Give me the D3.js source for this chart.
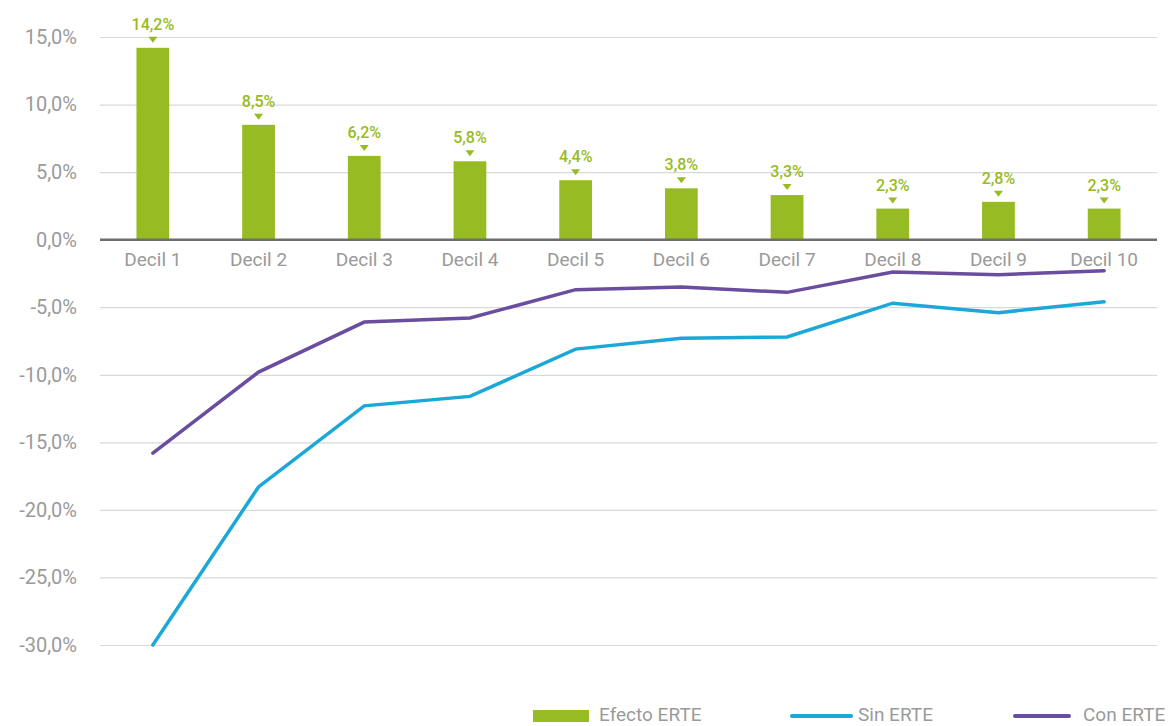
<!DOCTYPE html>
<html>
<head>
<meta charset="utf-8">
<script src="https://cdn.jsdelivr.net/npm/d3@7"></script>
<style>
  body { margin: 0; background: #fff; }
  svg { display: block; font-family: Roboto, "DejaVu Sans", sans-serif; }
</style>
</head>
<body>
<div id="chart"></div>
<script>
// Efecto de los ERTE por decil
const deciles = ["Decil 1", "Decil 2", "Decil 3", "Decil 4", "Decil 5", "Decil 6", "Decil 7", "Decil 8", "Decil 9", "Decil 10"];
const efectoErte = [14.2, 8.5, 6.2, 5.8, 4.4, 3.8, 3.3, 2.3, 2.8, 2.3];
const sinErte = [-30.0, -18.3, -12.3, -11.6, -8.1, -7.3, -7.2, -4.7, -5.4, -4.6];
const conErte = [-15.8, -9.8, -6.1, -5.8, -3.7, -3.5, -3.9, -2.4, -2.6, -2.3];
const yTicks = [15, 10, 5, 0, -5, -10, -15, -20, -25, -30];

const width = 1168, height = 726;
const green = "#97bb22", blue = "#1ba7d8", purple = "#6a4d9f";
const fmt = v => d3.format(".1f")(v).replace(".", ",").replace("−", "-") + "%";

const svg = d3.select("#chart").append("svg")
    .attr("width", width)
    .attr("height", height);

const x = d3.scaleBand()
    .domain(deciles)
    .range([100, 1157])
    .paddingInner(0.69)
    .paddingOuter(0.345);

const y = d3.scaleLinear()
    .domain([-30, 15])
    .range([645, 37]);

// gridlines + y labels
const yAxis = svg.append("g")
    .attr("transform", "translate(100,0)")
    .call(d3.axisLeft(y).tickValues(yTicks).tickSize(-1057).tickFormat(fmt).tickPadding(23));
yAxis.select(".domain").remove();
yAxis.selectAll(".tick line").attr("stroke", "#d9d9d9").attr("stroke-width", 1.2);
yAxis.selectAll(".tick text")
    .attr("fill", "#9a9a9a")
    .attr("font-size", "20px")
    .attr("font-family", "Roboto, sans-serif");

// bars
svg.append("g").selectAll("rect")
    .data(efectoErte)
    .join("rect")
    .attr("x", (d, i) => x(deciles[i]))
    .attr("y", d => y(d))
    .attr("width", x.bandwidth())
    .attr("height", d => y(0) - y(d))
    .attr("fill", green);

// zero axis line
svg.append("line")
    .attr("x1", 100).attr("x2", 1157)
    .attr("y1", y(0)).attr("y2", y(0))
    .attr("stroke", "#6e6e6e")
    .attr("stroke-width", 2.5);

// x labels
svg.append("g").selectAll("text")
    .data(deciles)
    .join("text")
    .attr("x", d => x(d) + x.bandwidth() / 2)
    .attr("y", y(0) + 26)
    .attr("text-anchor", "middle")
    .attr("fill", "#9a9a9a")
    .attr("font-size", "19px")
    .text(d => d);

// bar labels with small triangles
const lbl = svg.append("g").selectAll("g")
    .data(efectoErte)
    .join("g")
    .attr("transform", (d, i) => `translate(${x(deciles[i]) + x.bandwidth() / 2},${y(d)})`);
lbl.append("path")
    .attr("d", "M-4.5,-11 L4.5,-11 L0,-5 Z")
    .attr("fill", green);
lbl.append("text")
    .attr("y", -18)
    .attr("text-anchor", "middle")
    .attr("fill", green)
    .attr("font-size", "16px")
    .attr("font-weight", 500)
    .text(d => fmt(d));

// lines
const line = d3.line()
    .x((d, i) => x(deciles[i]) + x.bandwidth() / 2)
    .y(d => y(d));

svg.append("path")
    .datum(sinErte)
    .attr("d", line)
    .attr("fill", "none")
    .attr("stroke", blue)
    .attr("stroke-width", 3.5)
    .attr("stroke-linecap", "round");

svg.append("path")
    .datum(conErte)
    .attr("d", line)
    .attr("fill", "none")
    .attr("stroke", purple)
    .attr("stroke-width", 3.5)
    .attr("stroke-linecap", "round");

// legend
const legend = svg.append("g").attr("font-size", "19px").attr("fill", "#9a9a9a");
legend.append("rect").attr("x", 533).attr("y", 710).attr("width", 56).attr("height", 12).attr("fill", green);
legend.append("text").attr("x", 599).attr("y", 721).text("Efecto ERTE");
legend.append("line").attr("x1", 792).attr("x2", 851).attr("y1", 716).attr("y2", 716)
    .attr("stroke", blue).attr("stroke-width", 4).attr("stroke-linecap", "round");
legend.append("text").attr("x", 858).attr("y", 721).text("Sin ERTE");
legend.append("line").attr("x1", 1015).attr("x2", 1069).attr("y1", 716).attr("y2", 716)
    .attr("stroke", purple).attr("stroke-width", 4).attr("stroke-linecap", "round");
legend.append("text").attr("x", 1083).attr("y", 721).text("Con ERTE");
</script>
</body>
</html>
